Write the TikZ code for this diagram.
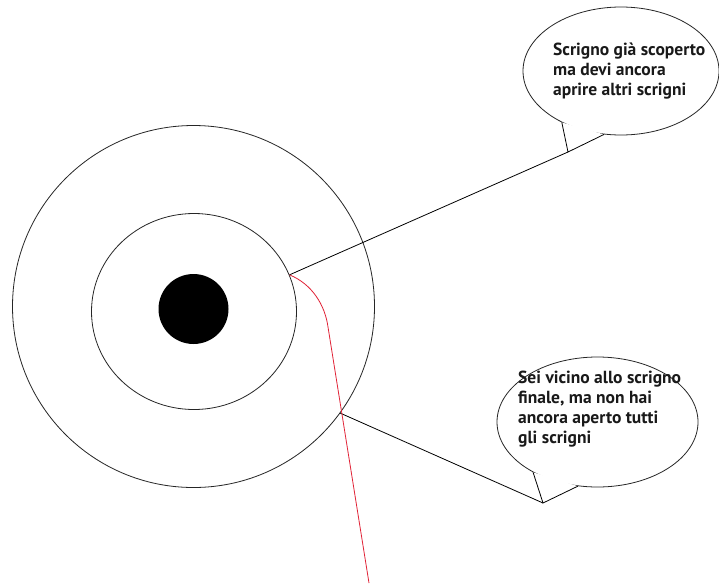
\documentclass[tikz,border=0pt]{standalone}
\usepackage{fontspec}
\setmainfont{PT Sans}
\usetikzlibrary{shapes.geometric}
\definecolor{curvered}{RGB}{225,35,55}
\tikzset{
  ring/.style={draw=black!85, line width=0.8pt, inner sep=0pt},
  bubble/.style={ellipse, draw=black!85, fill=white, line width=0.8pt, inner sep=0pt},
  tailline/.style={draw=black, line width=0.8pt, line join=miter},
  bubbletext/.style={align=left, inner sep=0pt, font=\fontsize{17.5}{20}\selectfont\bfseries, text=black!90},
}
\begin{document}
\begin{tikzpicture}[x=1pt, y=-1pt]
\useasboundingbox[fill=white] (0,0) rectangle (719,584);
% target
\node[ring, circle, minimum size=362pt] (outer) at (193.5,306.5) {};
\node[ring, ellipse, minimum width=205pt, minimum height=196pt] (inner) at (194,311.5) {};
\node[circle, fill=black, inner sep=0pt, minimum size=70pt] (disc) at (193.5,309) {};
% bubbles
\node[bubble, minimum width=196pt, minimum height=128pt] (b1) at (621,71) {};
\coordinate (tip1) at (568,152);
\fill[white] (b1.221) -- (tip1) -- (b1.255) -- cycle;
\draw[tailline] (b1.221) -- (tip1) -- (b1.255);
\node[bubble, minimum width=201pt, minimum height=130pt] (b2) at (597.5,422) {};
\coordinate (tip2) at (543,503);
\fill[white] (b2.218) -- (tip2) -- (b2.253) -- cycle;
\draw[tailline] (b2.218) -- (tip2) -- (b2.253);
% texts (base anchor = baseline of the last line)
\node[bubbletext, anchor=base west] (t1) at (553,95) {Scrigno già scoperto\\ma devi ancora\\aprire altri scrigni};
\node[bubbletext, anchor=base west] (t2) at (518,443) {Sei vicino allo scrigno\\finale, ma non hai\\ancora aperto tutti\\gli scrigni};
% connectors
\draw[tailline] (inner.21) -- (tip1);
\draw[tailline] (outer.-36) -- (tip2);
\coordinate (redend) at (369,583);
\draw[curvered, line width=0.8pt] (inner.21) .. controls (312,284) and (325,305) .. (328,327) -- (redend);
\end{tikzpicture}
\end{document}
